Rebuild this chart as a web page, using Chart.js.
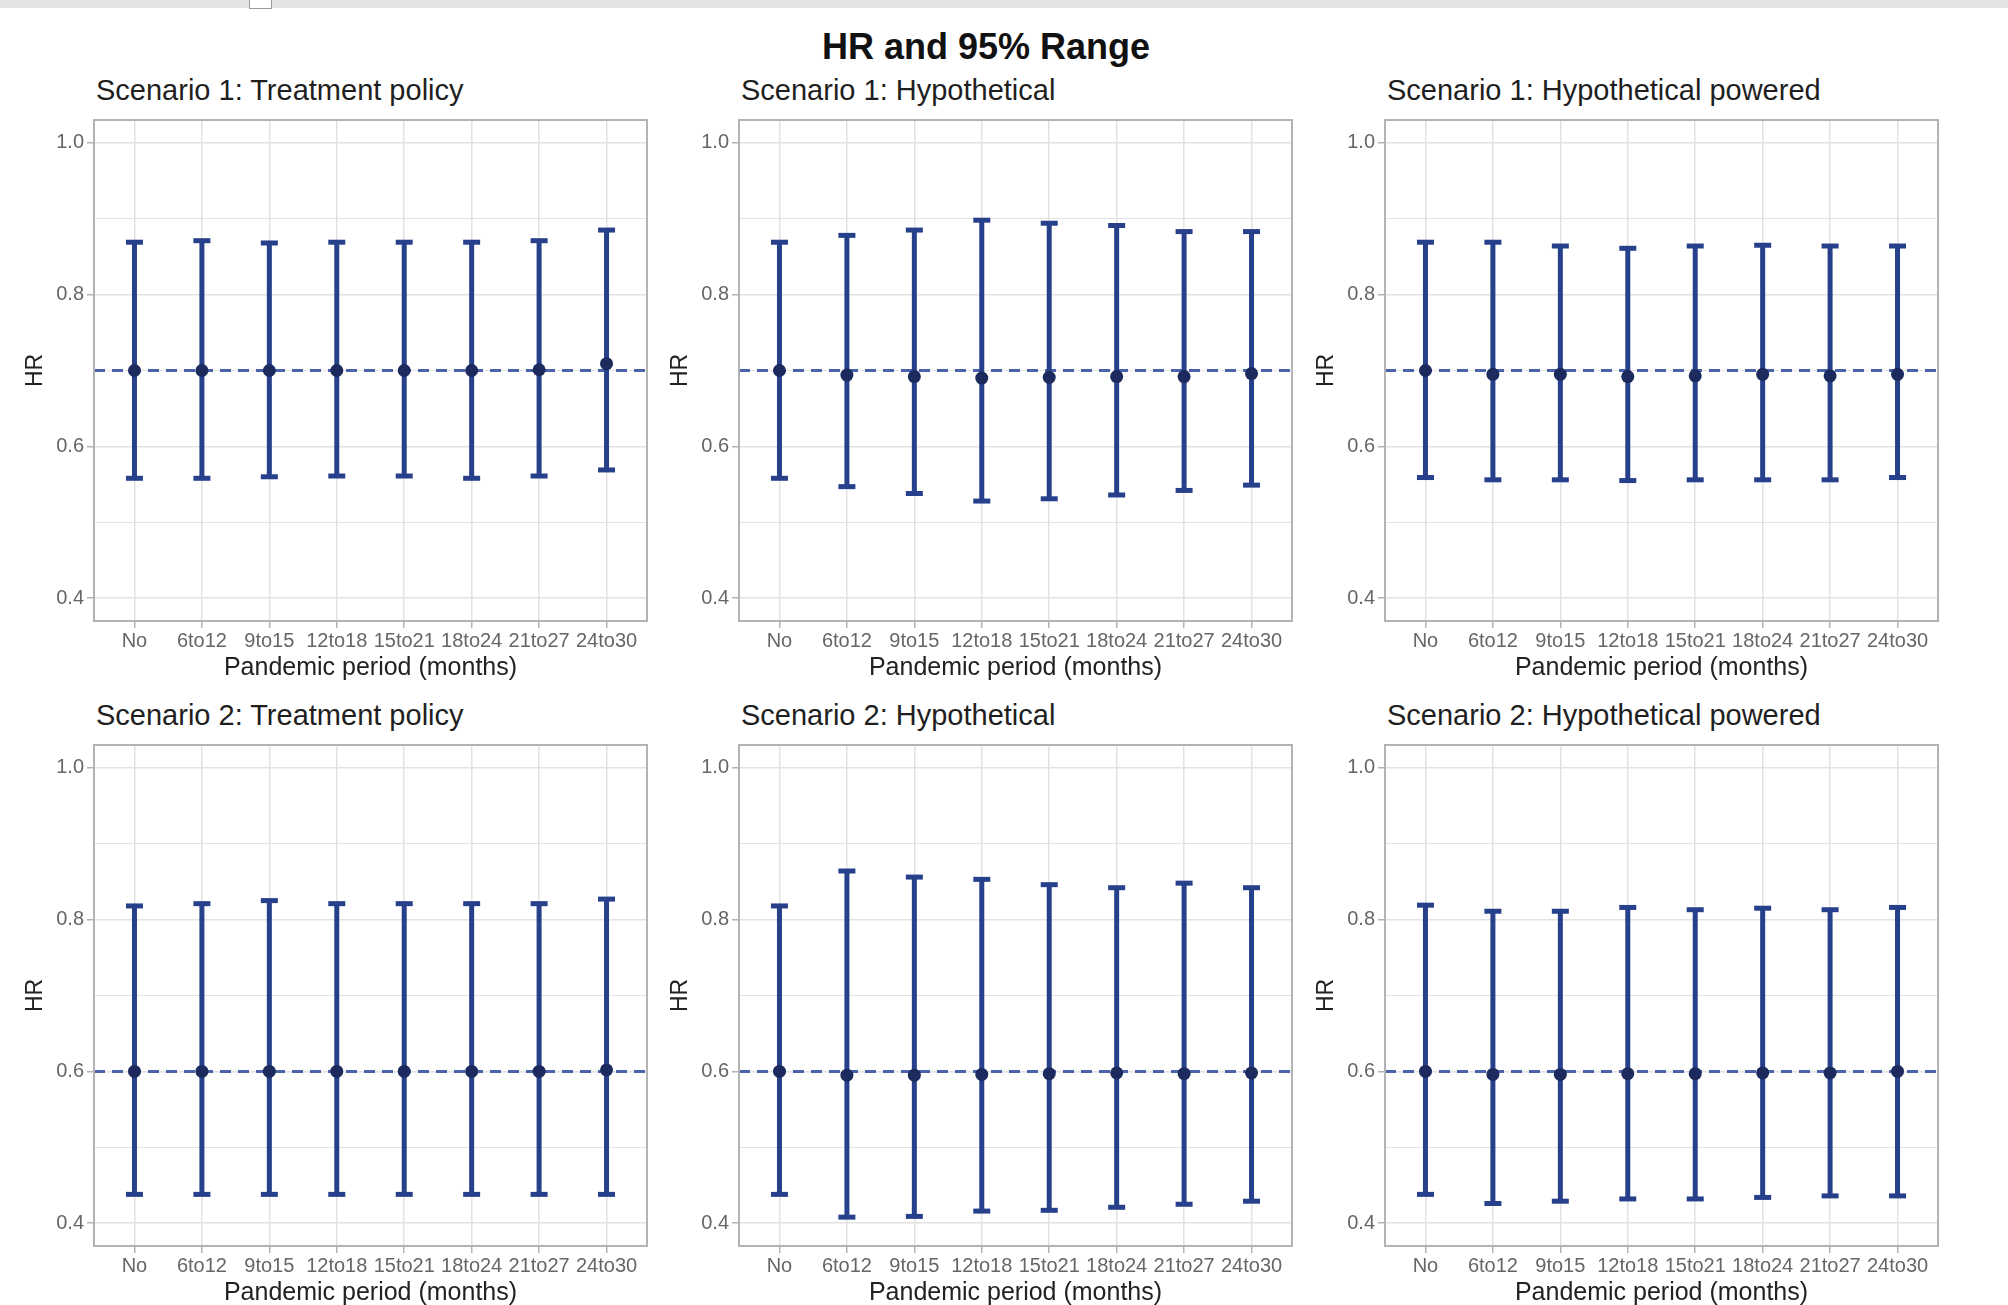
<!DOCTYPE html>
<html>
<head>
<meta charset="utf-8">
<title>HR and 95% Range</title>
<script src="https://cdn.jsdelivr.net/npm/chart.js@4.4.0/dist/chart.umd.min.js"></script>
<style>
  body { margin: 0; background: #fff; font-family: "Liberation Sans", Arial, sans-serif; }
  #page { position: relative; width: 2008px; height: 1305px; overflow: hidden; }
  #topbar { position: absolute; left: 0; top: 0; width: 2008px; height: 8px; background: #e4e4e4; }
  #topbox { position: absolute; left: 249px; top: 0; width: 21px; height: 8px; background: #fff; border: 1px solid #9a9a9a; border-top: 0; }
  #maintitle { position: absolute; left: 0; top: 29px; width: 1972px; text-align: center; font-weight: bold; font-size: 36px; line-height: 36px; color: #111; }
  .sub { position: absolute; font-size: 29px; line-height: 29px; color: #1f1f1f; white-space: nowrap; }
  canvas { position: absolute; }
</style>
</head>
<body>
<div id="page">
  <div id="topbar"></div><div id="topbox"></div>
  <div id="maintitle">HR and 95% Range</div>
</div>
<script>
'use strict'

// categories on the x axis
var periods = ['No', '6to12', '9to15', '12to18', '15to21', '18to24', '21to27', '24to30'];

// scenario 1 (true HR 0.7)
var s1TreatHR = [0.700, 0.700, 0.700, 0.700, 0.700, 0.700, 0.701, 0.709];
var s1TreatLo = [0.558, 0.558, 0.560, 0.561, 0.561, 0.558, 0.561, 0.569];
var s1TreatHi = [0.869, 0.871, 0.868, 0.869, 0.869, 0.869, 0.871, 0.885];

var s1HypHR = [0.700, 0.694, 0.692, 0.690, 0.691, 0.692, 0.692, 0.696];
var s1HypLo = [0.558, 0.547, 0.538, 0.528, 0.531, 0.536, 0.542, 0.549];
var s1HypHi = [0.869, 0.878, 0.885, 0.898, 0.894, 0.891, 0.883, 0.883];

var s1PowHR = [0.700, 0.695, 0.695, 0.692, 0.693, 0.695, 0.693, 0.695];
var s1PowLo = [0.559, 0.556, 0.556, 0.555, 0.556, 0.556, 0.556, 0.559];
var s1PowHi = [0.869, 0.869, 0.864, 0.861, 0.864, 0.865, 0.864, 0.864];

// scenario 2 (true HR 0.6)
var s2TreatHR = [0.600, 0.600, 0.600, 0.600, 0.600, 0.600, 0.600, 0.602];
var s2TreatLo = [0.438, 0.438, 0.438, 0.438, 0.438, 0.438, 0.438, 0.438];
var s2TreatHi = [0.818, 0.821, 0.825, 0.821, 0.821, 0.821, 0.821, 0.827];

var s2HypHR = [0.600, 0.595, 0.595, 0.596, 0.597, 0.598, 0.597, 0.598];
var s2HypLo = [0.438, 0.408, 0.409, 0.416, 0.417, 0.421, 0.425, 0.429];
var s2HypHi = [0.818, 0.864, 0.856, 0.853, 0.846, 0.842, 0.848, 0.842];

var s2PowHR = [0.600, 0.596, 0.596, 0.597, 0.597, 0.598, 0.598, 0.600];
var s2PowLo = [0.438, 0.426, 0.429, 0.432, 0.432, 0.434, 0.436, 0.436];
var s2PowHi = [0.819, 0.811, 0.811, 0.816, 0.813, 0.815, 0.813, 0.816];

// dashed reference line per scenario
var refHR = [0.7, 0.6];

var yMajor = [0.4, 0.6, 0.8, 1.0];
var yMinor = [0.5, 0.7, 0.9];

var panels = [
  { title: 'Scenario 1: Treatment policy',     hr: s1TreatHR, lo: s1TreatLo, hi: s1TreatHi, ref: refHR[0] },
  { title: 'Scenario 1: Hypothetical',         hr: s1HypHR,   lo: s1HypLo,   hi: s1HypHi,   ref: refHR[0] },
  { title: 'Scenario 1: Hypothetical powered', hr: s1PowHR,   lo: s1PowLo,   hi: s1PowHi,   ref: refHR[0] },
  { title: 'Scenario 2: Treatment policy',     hr: s2TreatHR, lo: s2TreatLo, hi: s2TreatHi, ref: refHR[1] },
  { title: 'Scenario 2: Hypothetical',         hr: s2HypHR,   lo: s2HypLo,   hi: s2HypHi,   ref: refHR[1] },
  { title: 'Scenario 2: Hypothetical powered', hr: s2PowHR,   lo: s2PowLo,   hi: s2PowHi,   ref: refHR[1] }
];

// layout of the plot areas (px)
var colLeft = [94, 739, 1385];
var rowTop = [120, 745];
var panelW = 553, panelH = 501;
var padL = 75, padT = 10, padR = 10, padB = 63;

var barColor = '#27408b';
var dotColor = '#1c2a5e';
var refColor = '#4a63ab';

Chart.defaults.font.family = '"Liberation Sans", Arial, sans-serif';

var panelBorder = {
  id: 'panelBorder',
  afterDraw: function (chart) {
    var a = chart.chartArea, c = chart.ctx;
    c.save();
    c.strokeStyle = '#b3b3b3';
    c.lineWidth = 2;
    c.strokeRect(a.left, a.top, a.right - a.left, a.bottom - a.top);
    c.restore();
  }
};

function isMajor(v) {
  return yMajor.some(function (m) { return Math.abs(m - v) < 1e-6; });
}

function makePanel(p, idx) {
  var col = idx % 3, row = Math.floor(idx / 3);
  var L = colLeft[col], T = rowTop[row];
  var page = document.getElementById('page');

  var sub = document.createElement('div');
  sub.className = 'sub';
  sub.style.left = (L + 2) + 'px';
  sub.style.top = (T - 44) + 'px';
  sub.textContent = p.title;
  page.appendChild(sub);

  var cv = document.createElement('canvas');
  cv.width = panelW + padL + padR;
  cv.height = panelH + padT + padB;
  cv.style.left = (L - padL) + 'px';
  cv.style.top = (T - padT) + 'px';
  cv.style.width = cv.width + 'px';
  cv.style.height = cv.height + 'px';
  page.appendChild(cv);

  var datasets = [];
  // dashed reference line across the whole panel
  datasets.push({
    data: [{ x: -0.6, y: p.ref }, { x: periods.length - 0.4, y: p.ref }],
    showLine: true,
    borderColor: refColor,
    borderWidth: 3,
    borderDash: [11, 7],
    pointRadius: 0,
    order: 3
  });
  // error bars with caps
  for (var i = 0; i < periods.length; i++) {
    datasets.push({
      data: [{ x: i, y: p.lo[i] }, { x: i, y: p.hi[i] }],
      showLine: true,
      borderColor: barColor,
      borderWidth: 5,
      pointStyle: 'line',
      pointRadius: 8.5,
      pointBorderWidth: 5,
      pointBorderColor: barColor,
      order: 2
    });
  }
  // point estimates
  datasets.push({
    data: p.hr.map(function (v, i) { return { x: i, y: v }; }),
    pointRadius: 6.5,
    pointBackgroundColor: dotColor,
    pointBorderWidth: 0,
    order: 1
  });

  new Chart(cv, {
    type: 'scatter',
    data: { datasets: datasets },
    plugins: [panelBorder],
    options: {
      responsive: false,
      animation: false,
      devicePixelRatio: 1,
      layout: { autoPadding: false, padding: { left: 0, top: padT, right: padR, bottom: 0 } },
      plugins: { legend: { display: false }, tooltip: { enabled: false } },
      scales: {
        x: {
          type: 'linear',
          min: -0.6,
          max: periods.length - 0.4,
          afterBuildTicks: function (s) { s.ticks = periods.map(function (_, i) { return { value: i }; }); },
          afterFit: function (s) { s.height = padB; s.paddingLeft = 0; s.paddingRight = 0; },
          border: { display: false },
          grid: { color: '#e2e2e2', lineWidth: 1.5, tickLength: 7, tickColor: '#b3b3b3', tickWidth: 1.5 },
          ticks: {
            autoSkip: false, maxRotation: 0, padding: 1,
            color: '#666', font: { size: 20 },
            callback: function (v) { return periods[v]; }
          },
          title: {
            display: true, text: 'Pandemic period (months)',
            color: '#222', font: { size: 25 }, padding: { top: 0, bottom: 1 }
          }
        },
        y: {
          min: 0.37,
          max: 1.03,
          afterBuildTicks: function (s) {
            s.ticks = yMajor.concat(yMinor).sort().map(function (v) { return { value: v }; });
          },
          afterFit: function (s) { s.width = padL; s.paddingTop = 0; s.paddingBottom = 0; },
          border: { display: false },
          grid: {
            color: '#e2e2e2',
            lineWidth: function (ctx) { return isMajor(ctx.tick.value) ? 1.5 : 1; },
            tickLength: 7,
            tickWidth: 1.5,
            tickColor: function (ctx) { return isMajor(ctx.tick.value) ? '#b3b3b3' : 'rgba(0,0,0,0)'; }
          },
          ticks: {
            padding: 3, color: '#666', font: { size: 20 },
            callback: function (v) { return isMajor(v) ? v.toFixed(1) : ''; }
          },
          title: {
            display: true, text: 'HR',
            color: '#222', font: { size: 23 }, padding: { top: 3, bottom: 0 }
          }
        }
      }
    }
  });
}

window.onload = function () {
  panels.forEach(makePanel);
};
</script>
</body>
</html>
